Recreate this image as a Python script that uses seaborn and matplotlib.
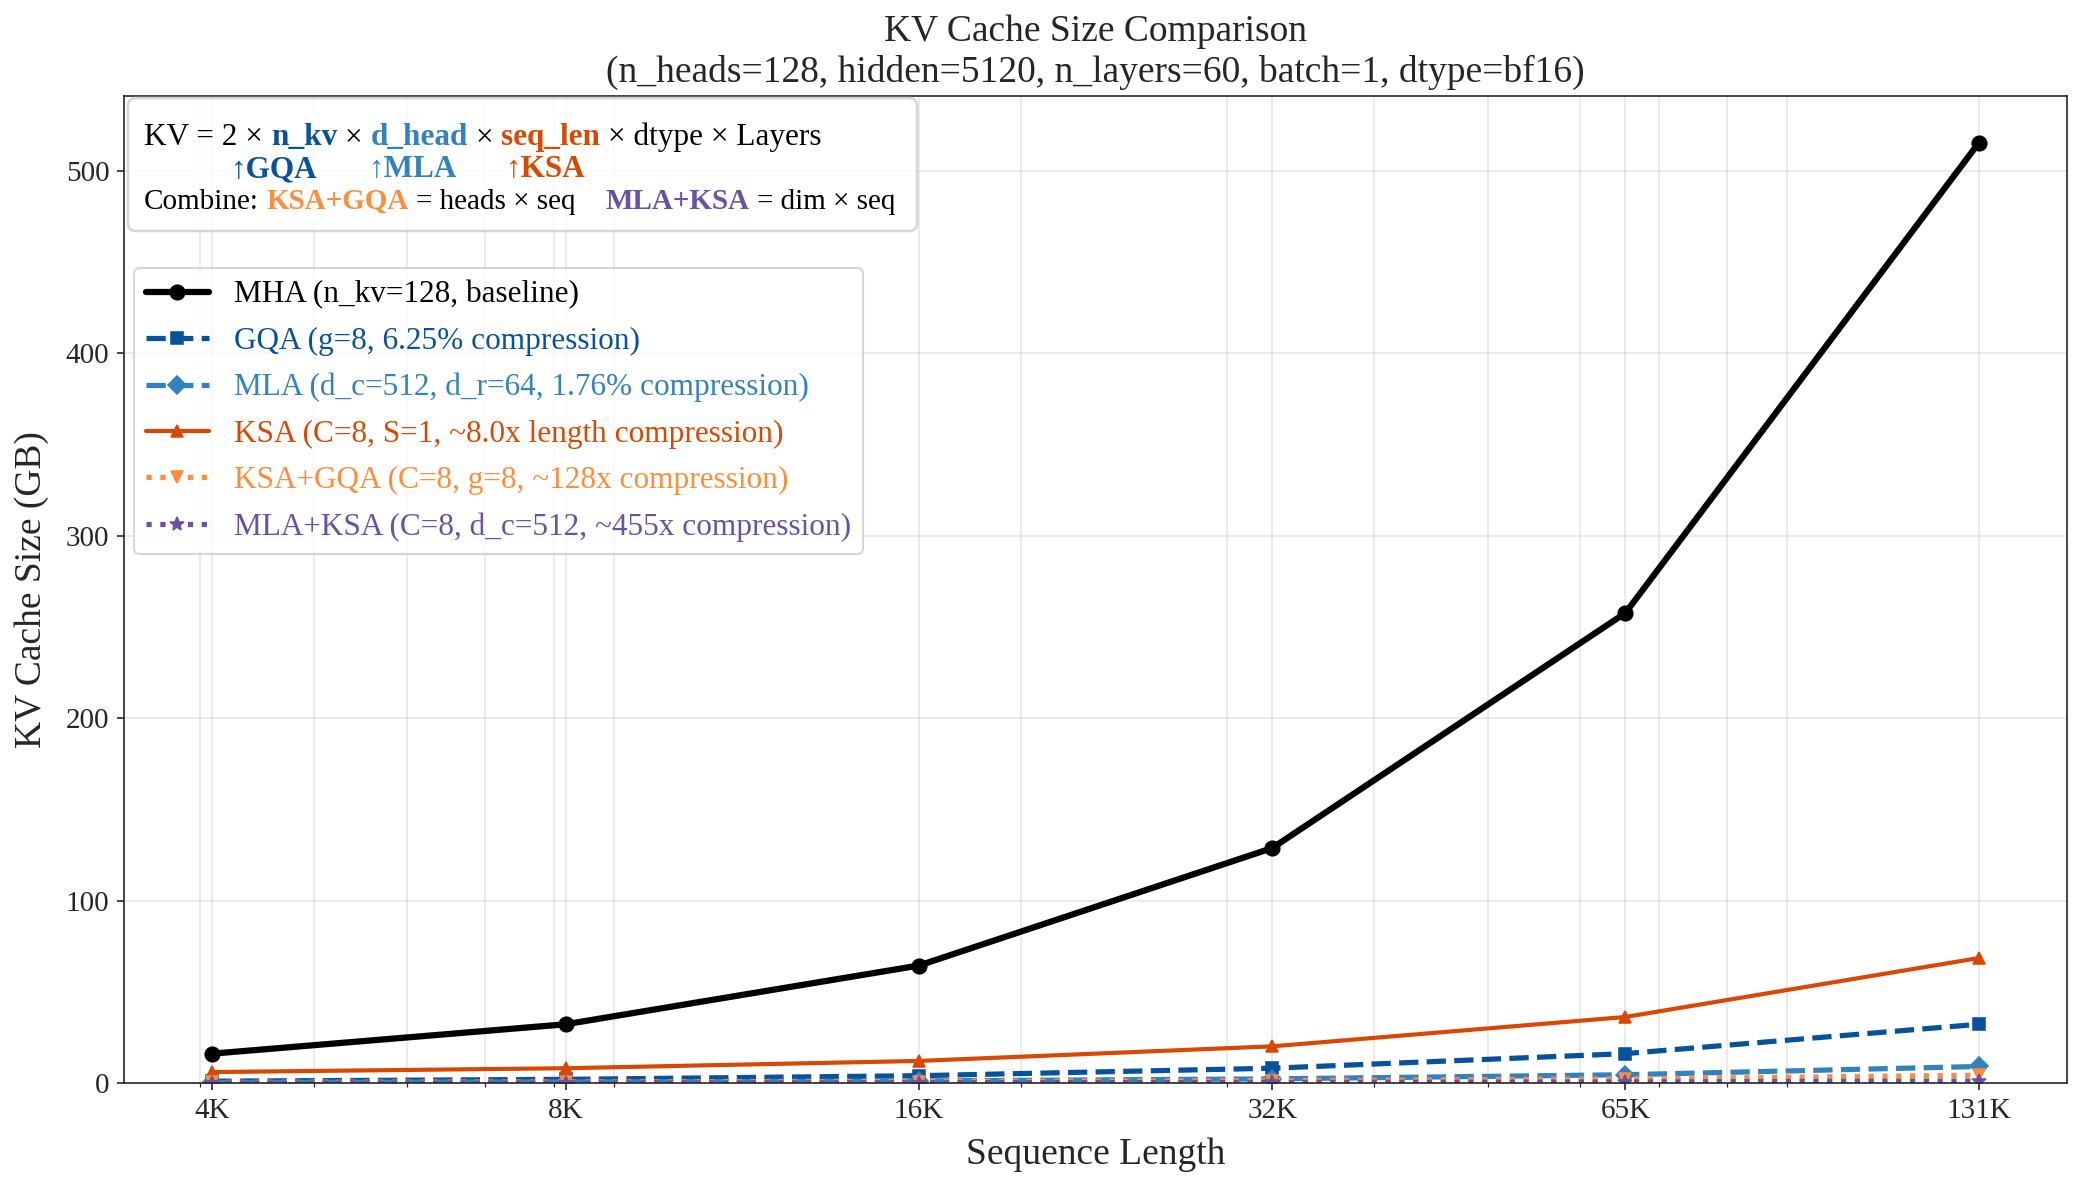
import numpy as np
import pandas as pd
import matplotlib
matplotlib.use("Agg")
import matplotlib.pyplot as plt
import seaborn as sns
from matplotlib.patches import FancyBboxPatch
from matplotlib.transforms import IdentityTransform
from matplotlib.ticker import NullFormatter

# ---------------- data ----------------
seq_lens = [4096, 8192, 16384, 32768, 65536, 131072]
tick_labels = ["4K", "8K", "16K", "32K", "65K", "131K"]
mha = [16.1, 32.2, 64.4, 128.8, 257.7, 515.4]
gqa = [1.0, 2.0, 4.0, 8.1, 16.1, 32.2]
mla = [0.28, 0.57, 1.13, 2.26, 4.53, 9.06]
ksa = [6.0, 8.1, 12.1, 20.1, 36.2, 68.5]
ksa_gqa = [0.38, 0.50, 0.76, 1.26, 2.26, 4.28]
mla_ksa = [0.04, 0.07, 0.14, 0.28, 0.57, 1.13]
series_labels = [
    "MHA (n_kv=128, baseline)",
    "GQA (g=8, 6.25% compression)",
    "MLA (d_c=512, d_r=64, 1.76% compression)",
    "KSA (C=8, S=1, ~8.0x length compression)",
    "KSA+GQA (C=8, g=8, ~128x compression)",
    "MLA+KSA (C=8, d_c=512, ~455x compression)",
]

# ---------------- styles ----------------
colors = ["#000000", "#08519c", "#3182bd", "#d94801", "#fd8d3c", "#6a51a3"]
linestyles = ["-", "--", "--", "-", ":", ":"]
markers = ["o", "s", "D", "^", "v", "*"]
linewidths = [3, 2.5, 2.5, 2, 2.5, 2.5]
markersizes = [7, 6, 6, 6, 6, 7]

sns.set_style("ticks")
plt.rcParams["font.family"] = ["Liberation Serif", "DejaVu Serif"]

W, H, DPI = 2084, 1185, 150
fig = plt.figure(figsize=(W / DPI, H / DPI), dpi=DPI)
ax = fig.add_axes([124 / W, 1 - 1083 / H, (2067 - 124) / W, (1083 - 96) / H])
ax.set_xscale("log")

all_vals = [mha, gqa, mla, ksa, ksa_gqa, mla_ksa]
for vals, lab, c, ls, m, lw, ms in zip(all_vals, series_labels, colors, linestyles,
                                       markers, linewidths, markersizes):
    df = pd.DataFrame({"seq": seq_lens, "gb": vals})
    sns.lineplot(data=df, x="seq", y="gb", ax=ax, color=c, linestyle=ls, marker=m,
                 linewidth=lw, markersize=ms, markeredgecolor=c, label=lab)

ax.set_xticks(seq_lens)
ax.set_xticklabels(tick_labels)
ax.xaxis.set_minor_formatter(NullFormatter())
ax.set_ylim(bottom=0)
ax.grid(True, which="both", color="#b0b0b0", alpha=0.3)
ax.tick_params(axis="both", which="major", labelsize=14)
ax.set_xlabel("Sequence Length", fontsize=18, labelpad=6.5)
ax.set_ylabel("KV Cache Size (GB)", fontsize=18, labelpad=8)
ax.set_title("KV Cache Size Comparison\n(n_heads=128, hidden=5120, n_layers=60, batch=1, dtype=bf16)",
             fontsize=18, linespacing=1.2, pad=7)

leg = ax.legend(loc="upper left", bbox_to_anchor=(0.005, 0.826), borderaxespad=0,
                fontsize=15, framealpha=0.8, edgecolor="0.8", fancybox=True,
                labelspacing=0.55)
for t, c in zip(leg.get_texts(), colors):
    t.set_color(c)

# ---------------- formula box ----------------
fig.canvas.draw()
r = fig.canvas.get_renderer()
axb = ax.get_window_extent(r)


def measure(s, weight="normal", fs=15):
    t = fig.text(0, 0, s, fontsize=fs, weight=weight)
    w = t.get_window_extent(r).width
    t.remove()
    return w


def place(xpx, ypx, s, color, weight="normal", fs=15):
    t = fig.text(xpx / W, ypx / H, s, fontsize=fs, color=color, weight=weight,
                 va="baseline", ha="left", zorder=10)
    w = t.get_window_extent(r).width
    return xpx + w, w


space15 = measure("a a") - measure("aa")
space14 = measure("a a", fs=14) - measure("aa", fs=14)

x0 = axb.x0 + 20
top = axb.y1
y1 = top - 49
y2 = top - 81
y3 = top - 113

c_gqa, c_mla, c_ksa, c_kg, c_mk = colors[1], colors[2], colors[3], colors[4], colors[5]

line1 = [("KV = 2 \u00d7", "black", "normal"), ("n_kv", c_gqa, "bold"), ("\u00d7", "black", "normal"),
         ("d_head", c_mla, "bold"), ("\u00d7", "black", "normal"), ("seq_len", c_ksa, "bold"),
         ("\u00d7 dtype \u00d7 Layers", "black", "normal")]
x = x0
starts = []
for s, c, wgt in line1:
    starts.append((x, measure(s, wgt)))
    x, _ = place(x, y1, s, c, wgt)
    x += space15
right1 = x - space15

# arrows under the variables
arrow_specs = [("\u2191GQA", c_gqa, 1, -30), ("\u2191MLA", c_mla, 3, -6), ("\u2191KSA", c_ksa, 5, -5)]
for s, c, idx, off in arrow_specs:
    sx, sw = starts[idx]
    aw = measure(s, "bold")
    place(sx + sw / 2 - aw / 2 + off, y2, s, c, "bold")

line3 = [("Combine:", "black", "normal", space14), ("KSA+GQA", c_kg, "bold", space14),
         ("= heads \u00d7 seq", "black", "normal", 30), ("MLA+KSA", c_mk, "bold", space14),
         ("= dim \u00d7 seq", "black", "normal", 0)]
x = x0
for s, c, wgt, gap in line3:
    x, _ = place(x, y3, s, c, wgt, fs=14)
    x += gap
right3 = x

bx0 = axb.x0 + 4
bx1 = max(right1, right3) + 22
by1 = top - 2
by0 = top - 135
box = FancyBboxPatch((bx0, by0), bx1 - bx0, by1 - by0,
                     boxstyle="round,pad=0,rounding_size=8",
                     transform=IdentityTransform(), facecolor="white", alpha=0.8,
                     edgecolor="0.8", linewidth=1.2, zorder=9)
fig.patches.append(box)

fig.savefig("out.png", dpi=DPI)
